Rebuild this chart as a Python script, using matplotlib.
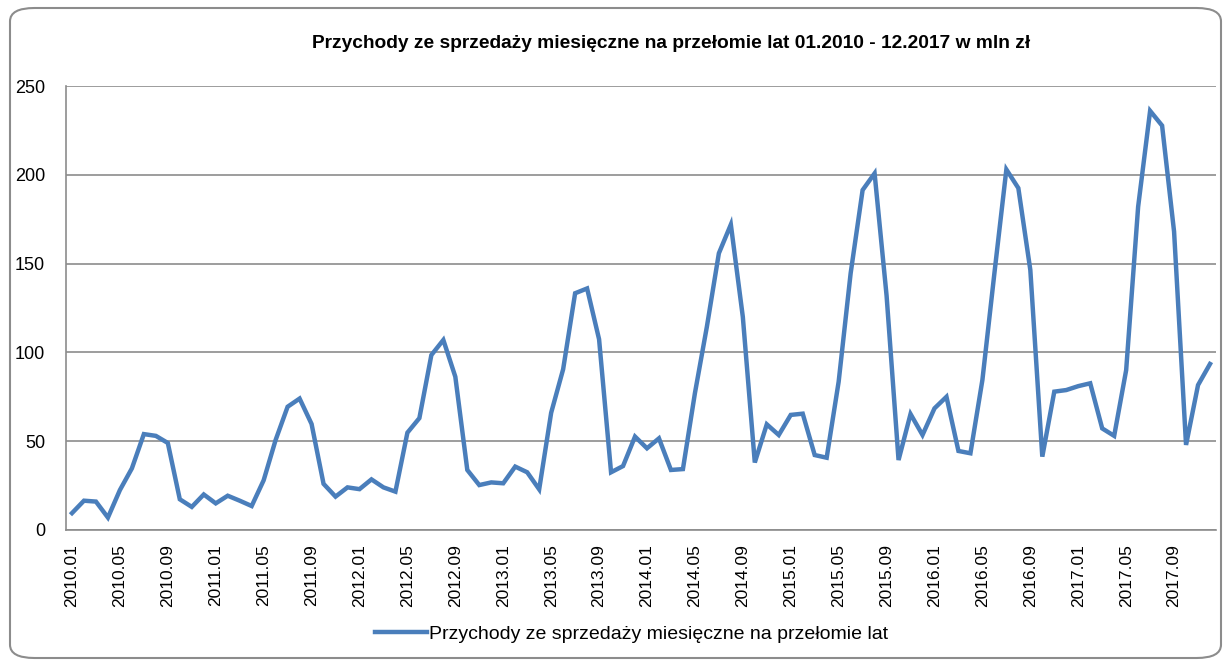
import numpy as np
import matplotlib
matplotlib.use('Agg')
import matplotlib.pyplot as plt
from matplotlib.patches import FancyBboxPatch

plt.rcParams['font.family'] = ['Liberation Sans Narrow', 'Liberation Sans', 'DejaVu Sans']

# Dane: przychody miesięczne 01.2010 - 12.2017 (mln zł)
przychody = [
    9.5, 16.5, 16, 7, 22.5, 34.7, 54, 53, 49, 17.3, 13, 20,
    15, 19.3, 16.5, 13.5, 28, 50.7, 69.4, 74, 59.7, 26, 18.8, 24,
    23, 28.5, 24, 21.6, 54.8, 63, 98.5, 107, 86.3, 33.8, 25.3, 26.8,
    26.3, 35.7, 32.5, 22.9, 66, 90.5, 133.3, 136, 107.4, 32.5, 36, 52.6,
    46, 51.6, 33.8, 34.3, 77, 114.5, 155.8, 172, 120, 38, 59.5, 53.5,
    64.8, 65.5, 42.2, 40.7, 83.5, 144.5, 191.4, 200.8, 132, 39.4, 65.3, 53.5,
    68.5, 75, 44.5, 43.2, 84.5, 144.5, 203, 192.5, 146.4, 41.3, 77.9, 78.8,
    81, 82.6, 57.2, 53, 90, 182, 236, 227.7, 168, 47.9, 81.6, 93.5,
]
lata = range(2010, 2018)
miesiace = [f"{r}.{m:02d}" for r in lata for m in range(1, 13)]

tytul = "Przychody ze sprzedaży miesięczne na przełomie lat 01.2010 - 12.2017 w mln zł"
etykieta = "Przychody ze sprzedaży miesięczne na przełomie lat"

fig = plt.figure(figsize=(12.24, 6.66), dpi=100)

# Ramka wykresu z zaokrąglonymi rogami
ramka = FancyBboxPatch((10 / 1224, 8 / 666), 1211 / 1224, 650 / 666,
                       boxstyle="round,pad=0,rounding_size=0.02",
                       transform=fig.transFigure, facecolor='white',
                       edgecolor='#8c8c8c', linewidth=1.5, zorder=-1)
fig.patches.append(ramka)

ax = fig.add_axes([66 / 1224, 1 - 530 / 666, 1150 / 1224, 444 / 666])
x = np.arange(len(przychody))
ax.plot(x, przychody, color='#4a7ebb', linewidth=3.2, solid_joinstyle='miter',
        label=etykieta)

ax.set_xlim(-0.5, len(przychody) - 0.5)
ax.set_ylim(0, 250)
ax.set_yticks(np.arange(0, 251, 50))
ax.yaxis.grid(True, color='#8c8c8c', linewidth=1.2)
ax.set_axisbelow(True)

ax.set_xticks(x[::4])
ax.set_xticklabels(miesiace[::4], rotation=90, fontsize=12.5)
ax.tick_params(axis='both', length=0)
ax.tick_params(axis='y', labelsize=13, pad=15)
ax.tick_params(axis='x', pad=10)

for s in ['top', 'right']:
    ax.spines[s].set_visible(False)
for s in ['left', 'bottom']:
    ax.spines[s].set_color('#8c8c8c')
    ax.spines[s].set_linewidth(1.2)

fig.text(0.5486, 1 - 44 / 666, tytul, ha='center', va='center',
         fontsize=13.8, fontweight='bold')

fig.legend(loc='center', bbox_to_anchor=(0.516, 1 - 634 / 666), frameon=False,
           fontsize=14, handlelength=2.7, handletextpad=0.1)

plt.savefig('out.png', dpi=100)
